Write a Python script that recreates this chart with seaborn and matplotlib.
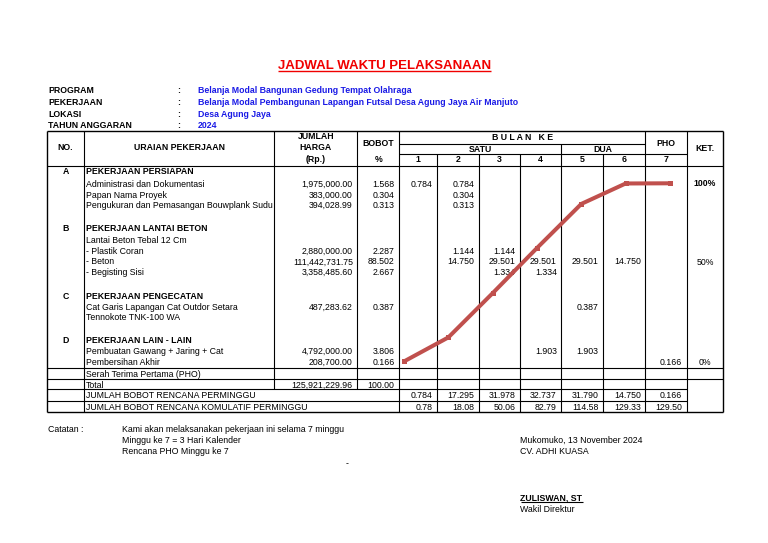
import matplotlib
matplotlib.use('Agg')
import matplotlib.pyplot as plt
import seaborn as sns
import pandas as pd

sns.set_theme(style='white')
plt.rcParams['font.family'] = ['Liberation Sans', 'DejaVu Sans']

# ------------------------------------------------------------------ data
title = 'JADWAL WAKTU PELAKSANAAN'
info_labels = ['PROGRAM', 'PEKERJAAN', 'LOKASI', 'TAHUN ANGGARAN']
info_values = ['Belanja Modal Bangunan Gedung Tempat Olahraga',
               'Belanja Modal Pembangunan Lapangan Futsal Desa Agung Jaya Air Manjuto',
               'Desa Agung Jaya',
               '2024']

row_no = ['A', '', '', '', 'B', '', '', '', '', 'C', '', '', 'D', '', '']
row_text = ['PEKERJAAN PERSIAPAN',
            'Administrasi dan Dokumentasi',
            'Papan Nama Proyek',
            'Pengukuran dan Pemasangan Bouwplank Sudu',
            'PEKERJAAN LANTAI BETON',
            'Lantai Beton Tebal 12 Cm',
            '- Plastik Coran',
            '- Beton',
            '- Begisting Sisi',
            'PEKERJAAN PENGECATAN',
            'Cat Garis Lapangan Cat Outdor Setara',
            'Tennokote TNK-100 WA',
            'PEKERJAAN LAIN - LAIN',
            'Pembuatan Gawang + Jaring + Cat',
            'Pembersihan Akhir']
row_harga = [None, 1975000.00, 383000.00, 394028.99, None, None, 2880000.00,
             111442731.75, 3358485.60, None, 487283.62, None, None, 4792000.00, 208700.00]
row_bobot = [None, 1.568, 0.304, 0.313, None, None, 2.287, 88.502, 2.667,
             None, 0.387, None, None, 3.806, 0.166]
# weekly schedule per row: {week: bobot}
row_sched = [{}, {1: 0.784, 2: 0.784}, {2: 0.304}, {2: 0.313}, {}, {},
             {2: 1.144, 3: 1.144},
             {2: 14.750, 3: 29.501, 4: 29.501, 5: 29.501, 6: 14.750},
             {3: 1.334, 4: 1.334}, {}, {5: 0.387}, {}, {},
             {4: 1.903, 5: 1.903}, {7: 0.166}]

total_harga = 125921229.96
total_bobot = 100.00
weeks = [1, 2, 3, 4, 5, 6, 7]
week_labels = ['1', '2', '3', '4', '5', '6', '7']
weekly_total = [0.784, 17.295, 31.978, 32.737, 31.790, 14.750, 0.166]
cumulative = [0.78, 18.08, 50.06, 82.79, 114.58, 129.33, 129.50]
curve_pct = [0.6, 14.0, 38.7, 63.9, 88.5, 99.9, 100.0]   # S-curve (%)
ket_labels = ['100%', '50%', '0%']

notes = ['Kami akan melaksanakan pekerjaan ini selama 7 minggu',
         'Minggu ke 7 = 3 Hari Kalender',
         'Rencana PHO Minggu ke 7']
sign_place = 'Mukomuko, 13 November 2024'
sign_company = 'CV. ADHI KUASA'
sign_name = 'ZULISWAN, ST'
sign_title = 'Wakil Direktur'

# ------------------------------------------------------------------ layout
W, H = 768, 543
fig = plt.figure(figsize=(W / 100, H / 100), dpi=100)
fig.patch.set_facecolor('white')
ax = fig.add_axes([0, 0, 1, 1])
ax.set_xlim(0, W)
ax.set_ylim(H, 0)
ax.axis('off')

FS = 6.35
OFF = 3.2


def T(x, y, s, ha='left', bold=False, color='black', size=FS, off=OFF):
    return ax.text(x, y + off, s, ha=ha, va='baseline', fontsize=size,
                   fontweight='bold' if bold else 'normal', color=color)


def hl(y, x0, x1, lw=0.8):
    ax.plot([x0, x1], [y, y], color='black', lw=lw, solid_capstyle='butt')


def vl(x, y0, y1, lw=0.8):
    ax.plot([x, x], [y0, y1], color='black', lw=lw, solid_capstyle='butt')


# title
tt = T(384.5, 64.5, title, ha='center', bold=True, color='#F00000', size=9.5, off=4.7)

# info block
info_y = [89.7, 102, 113.5, 125]
for lab, val, y in zip(info_labels, info_values, info_y):
    T(48.5, y, lab, bold=True)
    T(177.5, y, ':', bold=True)
    T(198, y, val, bold=True, color='#1A1AE6')

# table geometry
XL, XNO, XUR, XHG, XBB = 46.7, 84.3, 274.3, 357.3, 399.0
col_edges = [399.0, 437.3, 478.7, 520.0, 561.3, 602.7, 645.3, 686.7]
XR = 723.3
YT, Y1, Y2, YH = 131.0, 144.0, 154.3, 166.0
Y_SERAH, Y_TOTAL, Y_JML, Y_KOM, YB = 368.3, 379.3, 389.4, 400.7, 411.7

hl(YT, XL, XR, 1.0)
hl(Y1, XBB, col_edges[6])
hl(Y2, XBB, col_edges[7])
hl(YH, XL, XR)
hl(Y_SERAH, XL, XR)
hl(Y_TOTAL, XL, XR)
hl(Y_JML, XL, col_edges[7])
hl(Y_KOM, XL, col_edges[7])
hl(YB, XL, XR, 1.0)

vl(XL, YT, YB, 1.0)
vl(XNO, YT, YB)
vl(XUR, YT, Y_JML)
vl(XHG, YT, Y_JML)
vl(XBB, YT, YB)
for i, x in enumerate(col_edges[1:], start=1):
    if i in (1, 2, 3, 5):
        vl(x, Y2, YB)
    elif i == 4:
        vl(x, Y1, YB)
    else:
        vl(x, YT, YB)
vl(XR, YT, YB, 1.0)

# header text
T((XL + XNO) / 2, 147.3, 'NO.', ha='center', bold=True)
T((XNO + XUR) / 2, 147.3, 'URAIAN PEKERJAAN', ha='center', bold=True)
T((XUR + XHG) / 2, 136.0, 'JUMLAH', ha='center', bold=True)
T((XUR + XHG) / 2, 147.3, 'HARGA', ha='center', bold=True)
T((XUR + XHG) / 2, 158.8, '(Rp.)', ha='center', bold=True)
T((XHG + XBB) / 2, 142.3, 'BOBOT', ha='center', bold=True)
T((XHG + XBB) / 2, 158.8, '%', ha='center', bold=True)
T((col_edges[0] + col_edges[6]) / 2, 136.3, 'B U L A N   K E', ha='center', bold=True)
T((col_edges[0] + col_edges[4]) / 2, 148.5, 'SATU', ha='center', bold=True)
T((col_edges[4] + col_edges[6]) / 2, 148.5, 'DUA', ha='center', bold=True)
T((col_edges[6] + col_edges[7]) / 2, 142.3, 'PHO', ha='center', bold=True)
T((col_edges[7] + XR) / 2, 147.5, 'KET.', ha='center', bold=True)
col_centers = [(a + b) / 2 for a, b in zip(col_edges[:-1], col_edges[1:])]
for cx, lab in zip(col_centers, week_labels):
    T(cx, 159.3, lab, ha='center', bold=True)

# body rows
row_y = [170.8, 183.5, 194.3, 205.0, 227.5, 239.6, 250.5, 261.3, 272.0,
         295.5, 306.7, 317.3, 339.5, 351.0, 361.7]
PAD = 4.5
for no, txt, hg, bb, sc, y in zip(row_no, row_text, row_harga, row_bobot, row_sched, row_y):
    head = no != ''
    if head:
        T((XL + XNO) / 2, y, no, ha='center', bold=True)
    T(86.0, y, txt, bold=head)
    if hg is not None:
        T(XHG - PAD, y, f'{hg:,.2f}', ha='right')
    if bb is not None:
        T(XBB - PAD, y, f'{bb:.3f}', ha='right')
    for wk, v in sc.items():
        T(col_edges[wk] - PAD, y, f'{v:.3f}', ha='right')

# KET labels
ket_y = [182.8, 262.0, 362.0]
for lab, y, b in zip(ket_labels, ket_y, [True, False, False]):
    T((col_edges[7] + XR) / 2, y, lab, ha='center', bold=b)

# footer rows of table
T(86.0, 373.6, 'Serah Terima Pertama (PHO)')
T(86.0, 384.3, 'Total')
T(XHG - PAD, 384.3, f'{total_harga:,.2f}', ha='right')
T(XBB - PAD, 384.3, f'{total_bobot:.2f}', ha='right')
T(86.0, 395.0, 'JUMLAH BOBOT RENCANA PERMINGGU')
T(86.0, 406.3, 'JUMLAH BOBOT RENCANA KOMULATIF PERMINGGU')
for i, (wt, cm) in enumerate(zip(weekly_total, cumulative)):
    T(col_edges[i + 1] - PAD, 395.0, f'{wt:.3f}', ha='right')
    T(col_edges[i + 1] - PAD, 406.3, f'{cm:.2f}', ha='right')

# notes & signature
T(48.5, 429.0, 'Catatan :')
for s, y in zip(notes, [429.0, 440.0, 451.2]):
    T(122.5, y, s)
T(345.5, 462.5, '-')
T(520.5, 440.0, sign_place)
T(520.5, 451.2, sign_company)
tn = T(520.5, 497.0, sign_name, bold=True)
T(520.5, 508.8, sign_title)

# S-curve on its own axes placed over the week columns
cx0, cx1, cy0, cy100 = 404.0, 670.0, 362.5, 183.3
cax = fig.add_axes([cx0 / W, 1 - cy0 / H, (cx1 - cx0) / W, (cy0 - cy100) / H])
df = pd.DataFrame({'week': weeks, 'pct': curve_pct})
sns.lineplot(data=df, x='week', y='pct', ax=cax, color='#C0504D', linewidth=2.9,
             marker='s', markersize=3.6, markeredgewidth=0, clip_on=False)
cax.set_xlim(1, 7)
cax.set_ylim(0, 100)
cax.axis('off')

# underlines
fig.canvas.draw()
inv = ax.transData.inverted()
for t, dy, lw, col in [(tt, 2.2, 1.0, '#F00000'), (tn, 1.6, 0.8, 'black')]:
    bb_ = t.get_window_extent()
    (x0, _), (x1, _) = inv.transform([[bb_.x0, bb_.y0], [bb_.x1, bb_.y1]])
    ybase = t.get_position()[1]
    ax.plot([x0, x1], [ybase + dy, ybase + dy], color=col, lw=lw, solid_capstyle='butt')

fig.savefig('out.png', dpi=100, facecolor='white')
